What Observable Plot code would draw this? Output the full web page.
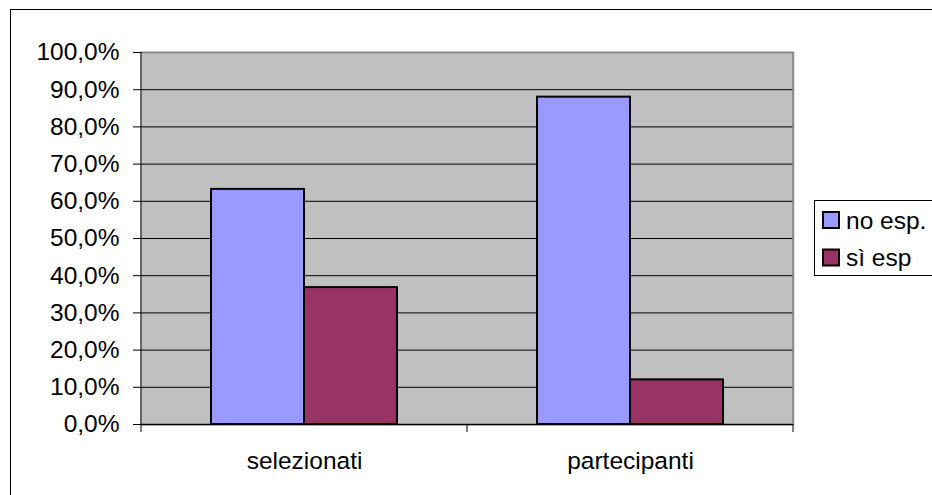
<!DOCTYPE html>
<html>
<head>
<meta charset="utf-8">
<script src="https://cdn.jsdelivr.net/npm/d3@7"></script>
<script src="https://cdn.jsdelivr.net/npm/@observablehq/plot@0.6"></script>
<style>
  html, body { margin: 0; padding: 0; background: #fff; }
  #chart { position: relative; width: 932px; height: 495px; overflow: hidden; }
</style>
</head>
<body>
<div id="chart"></div>
<script>
const categories = ["selezionati", "partecipanti"];
const series = ["no esp.", "sì esp"];
const noEsp = [0.632, 0.880];
const siEsp = [0.368, 0.120];
const colors = ["#9999FF", "#993366"];
const yTicks = [0, 0.1, 0.2, 0.3, 0.4, 0.5, 0.6, 0.7, 0.8, 0.9, 1.0];

const data = [];
categories.forEach((c, i) => {
  data.push({cat: c, series: series[0], value: noEsp[i]});
  data.push({cat: c, series: series[1], value: siEsp[i]});
});

const fmt = d => (d * 100).toFixed(1).replace(".", ",") + "%";
const FONT = "'Liberation Sans', Arial, Helvetica, sans-serif";

const chart = Plot.plot({
  width: 932,
  height: 495,
  marginLeft: 140,
  marginRight: 139,
  marginTop: 52,
  marginBottom: 71,
  style: {fontFamily: FONT, fontSize: "24.5px", color: "#000", background: "transparent", overflow: "visible"},
  fx: {domain: categories, padding: 0, label: null},
  x: {domain: series, paddingInner: 0, paddingOuter: 0.746, axis: null},
  y: {domain: [0, 1], label: null},
  color: {domain: series, range: colors},
  marks: [
    Plot.frame({fill: "#C0C0C0", stroke: "#C0C0C0", strokeWidth: 2}),
    Plot.gridY(yTicks.filter(d => d > 0 && d < 1), {stroke: "#000", strokeOpacity: 1}),
    Plot.ruleY([1], {stroke: "#808080", strokeWidth: 1.5}),
    Plot.barY(data, {fx: "cat", x: "series", y: "value", fill: "series", stroke: "#000", strokeWidth: 2}),
    Plot.ruleY([0], {stroke: "#000", strokeWidth: 1.5}),
    Plot.axisY(yTicks, {tickFormat: fmt, tickSize: 8, tickPadding: 14, label: null, fontSize: 24.5}),
    Plot.axisFx({anchor: "bottom", tickSize: 0, tickPadding: 27, label: null, fontSize: 24.5})
  ]
});

const svg = d3.select(chart);
const fx = chart.scale("fx");
const yS = chart.scale("y");
const y0 = yS.apply(0), y1 = yS.apply(1);
const xLeft = fx.apply(categories[0]);
const xRight = fx.apply(categories[categories.length - 1]) + fx.step;

// white cover outside plot area edges (frame stroke spill)
// plot-area right border (gray) and value axis line (black)
svg.append("line").attr("x1", xRight).attr("x2", xRight).attr("y1", y1).attr("y2", y0)
  .attr("stroke", "#808080").attr("stroke-width", 1.5);
svg.append("line").attr("x1", xLeft).attr("x2", xLeft).attr("y1", y1).attr("y2", y0)
  .attr("stroke", "#000").attr("stroke-width", 1);

// category boundary ticks
const edges = categories.map(c => fx.apply(c)).concat([xRight]);
svg.append("g").attr("stroke", "#000").selectAll("line").data(edges).join("line")
  .attr("x1", d => d).attr("x2", d => d).attr("y1", y0).attr("y2", y0 + 8);

// outer chart border (cropped at right/bottom as in reference)
svg.append("rect").attr("x", 10.5).attr("y", 9.5).attr("width", 1000).attr("height", 1000)
  .attr("fill", "none").attr("stroke", "#000");

// legend
const color = chart.scale("color");
const lg = svg.append("g").attr("text-anchor", "start");
lg.append("rect").attr("x", 814.5).attr("y", 200.5).attr("width", 200).attr("height", 75)
  .attr("fill", "#fff").attr("stroke", "#000");
series.forEach((s, i) => {
  const cy = 220 + i * 37.5;
  lg.append("rect").attr("x", 823).attr("y", cy - 8).attr("width", 16).attr("height", 16)
    .attr("fill", color.apply(s)).attr("stroke", "#000").attr("stroke-width", 2);
  lg.append("text").attr("x", 846).attr("y", cy).attr("dy", "0.35em")
    .attr("text-anchor", "start")
    .attr("font-family", FONT).attr("font-size", 24.5).attr("fill", "#000").text(s);
});

document.getElementById("chart").appendChild(chart);
</script>
</body>
</html>
